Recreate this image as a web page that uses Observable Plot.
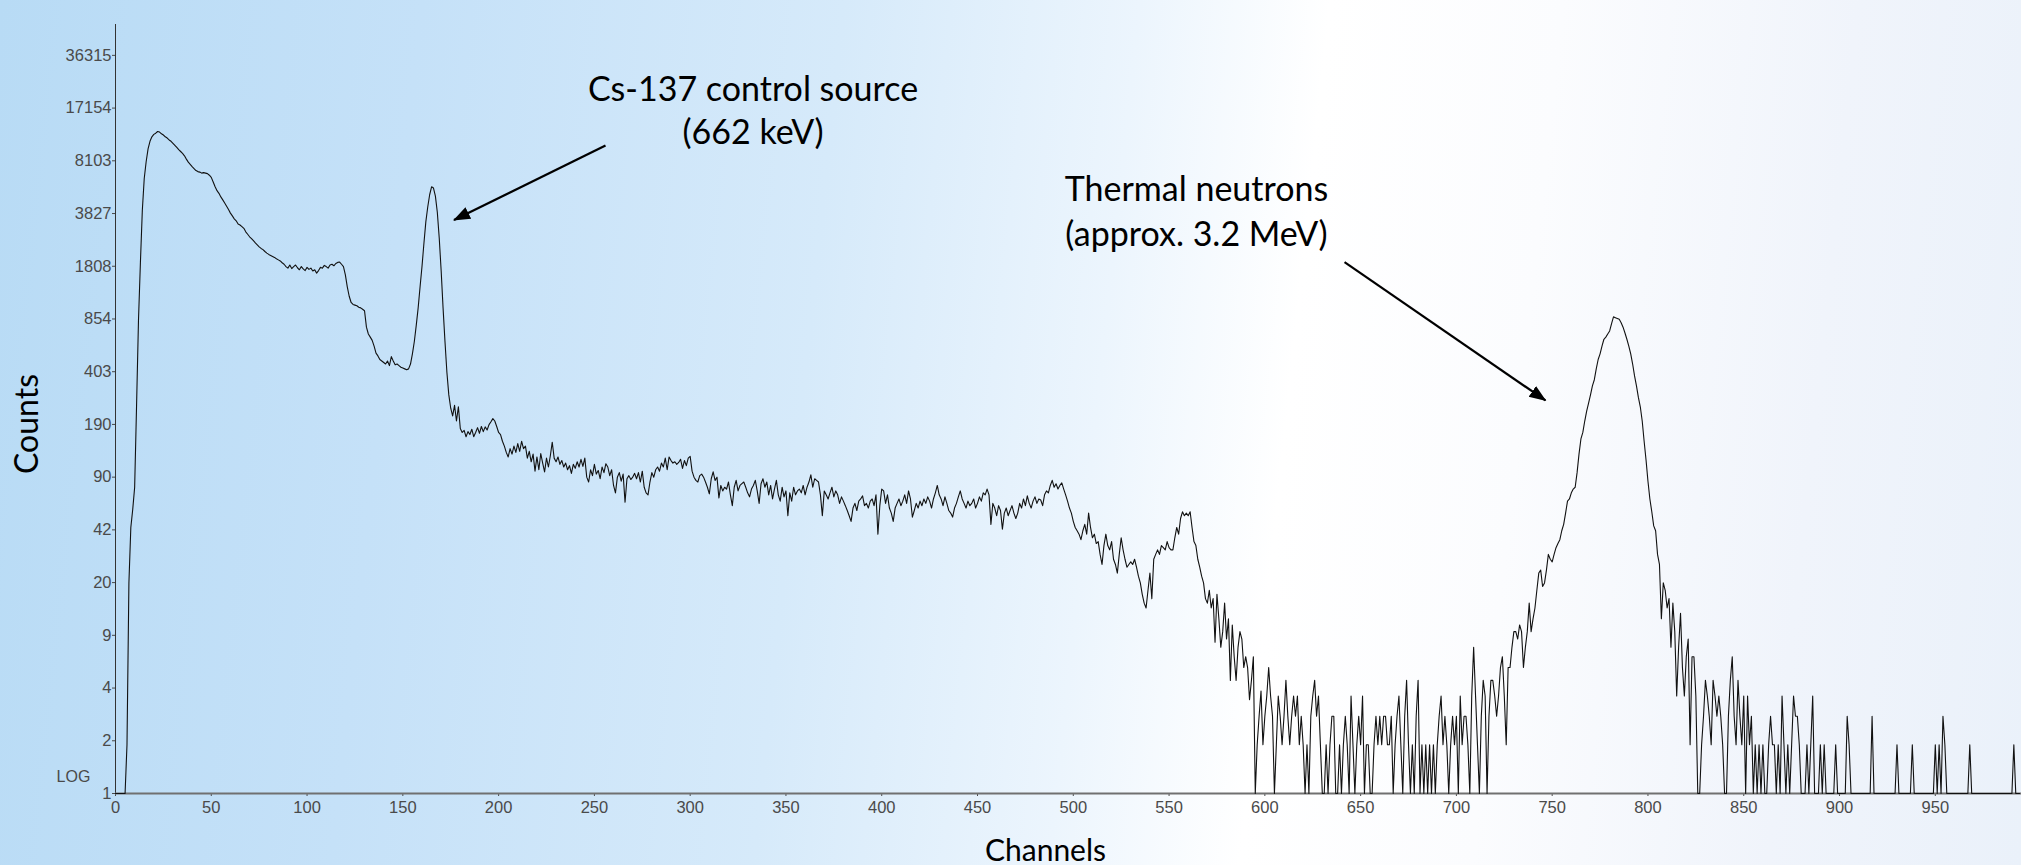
<!DOCTYPE html>
<html>
<head>
<meta charset="utf-8">
<script src="https://cdn.jsdelivr.net/npm/d3@7"></script>
<script src="https://cdn.jsdelivr.net/npm/@observablehq/plot@0.6"></script>
<style>
html, body { margin: 0; padding: 0; width: 2021px; height: 865px; overflow: hidden; }
body {
  background: linear-gradient(96deg, #b8dbf5 0%, #c5e1f8 20%, #d6eafa 40%, #ecf5fd 54%, #ffffff 63%, #fbfcfe 74%, #f0f4fb 88%, #eaf1fa 100%);
}
#chart svg { display: block; }
</style>
</head>
<body>
<div id="chart"></div>
<script>
// Counts per channel (channel = index) (log display; 1 = empty channel at baseline)
const counts = [
  /*   0 */ 1,1,1,1,1,1,2,20,44,57,
  /*  10 */ 78,250,840,1900,4000,6300,8000,9600,10700,11400,
  /*  20 */ 11800,12000,12300,12200,11900,11700,11400,11200,10900,10700,
  /*  30 */ 10400,10100,9800,9500,9250,9000,8700,8300,7950,7700,
  /*  40 */ 7450,7250,7050,6950,6900,6800,6850,6800,6750,6600,
  /*  50 */ 6400,6000,5600,5300,5100,4850,4650,4450,4250,4050,
  /*  60 */ 3850,3700,3550,3450,3300,3250,3180,3100,2950,2850,
  /*  70 */ 2750,2680,2600,2520,2450,2380,2330,2290,2230,2180,
  /*  80 */ 2140,2110,2080,2050,2010,1980,1950,1900,1860,1800,
  /*  90 */ 1760,1840,1750,1800,1840,1770,1720,1800,1740,1700,
  /* 100 */ 1780,1730,1760,1690,1720,1640,1700,1780,1760,1830,
  /* 110 */ 1800,1760,1840,1860,1820,1880,1910,1920,1860,1800,
  /* 120 */ 1600,1350,1180,1080,1050,1040,1030,1010,1000,980,
  /* 130 */ 960,760,690,660,630,580,525,505,480,470,
  /* 140 */ 460,450,470,440,500,470,445,450,440,430,
  /* 150 */ 425,420,415,420,450,520,620,780,1000,1350,
  /* 160 */ 1800,2500,3400,4200,5000,5600,5500,4900,3900,2700,
  /* 170 */ 1700,1000,620,400,290,240,215,250,200,245,
  /* 180 */ 180,170,175,160,172,165,178,160,170,182,
  /* 190 */ 168,185,172,184,176,190,198,207,200,185,
  /* 200 */ 170,165,150,140,128,120,135,125,140,128,
  /* 210 */ 145,130,150,135,140,118,130,112,125,98,
  /* 220 */ 120,100,126,110,97,118,104,122,148,118,
  /* 230 */ 112,120,108,114,104,110,100,106,95,108,
  /* 240 */ 102,112,104,116,105,118,90,84,100,92,
  /* 250 */ 108,94,99,88,104,96,109,104,92,100,
  /* 260 */ 80,72,90,96,85,94,63,88,92,87,
  /* 270 */ 90,95,88,96,84,98,78,72,70,84,
  /* 280 */ 96,90,100,104,98,110,104,118,100,120,
  /* 290 */ 114,110,112,108,111,116,102,114,106,118,
  /* 300 */ 121,98,90,86,84,92,94,90,84,78,
  /* 310 */ 71,88,97,86,90,67,80,74,78,76,
  /* 320 */ 84,70,60,78,86,74,80,82,84,78,
  /* 330 */ 72,68,76,80,86,74,62,82,88,78,
  /* 340 */ 84,70,80,66,76,86,70,64,78,68,
  /* 350 */ 74,52,72,64,78,70,74,76,72,80,
  /* 360 */ 70,78,84,93,78,88,86,84,70,52,
  /* 370 */ 74,70,66,72,78,68,74,70,62,68,
  /* 380 */ 64,60,56,52,48,58,62,56,64,66,
  /* 390 */ 69,60,62,58,64,66,60,70,40,60,
  /* 400 */ 76,74,62,70,58,54,48,58,62,66,
  /* 410 */ 60,64,70,62,74,66,51,56,62,58,
  /* 420 */ 64,60,66,62,68,64,58,66,72,80,
  /* 430 */ 70,66,60,68,62,56,54,51,58,62,
  /* 440 */ 68,74,66,62,58,64,60,62,66,58,
  /* 450 */ 62,68,64,72,70,76,70,46,62,58,
  /* 460 */ 52,60,56,43,54,58,52,56,60,54,
  /* 470 */ 50,54,62,58,66,60,69,62,58,64,
  /* 480 */ 68,62,66,65,60,70,74,72,80,86,
  /* 490 */ 78,82,76,80,83,76,70,64,58,54,
  /* 500 */ 48,44,42,40,37,42,46,40,54,44,
  /* 510 */ 38,40,35,36,30,26,34,40,34,32,
  /* 520 */ 36,28,26,23,30,38,32,28,25,26,
  /* 530 */ 27,26,28,25,22,20,17,15,14,18,
  /* 540 */ 23,16,28,30,32,30,34,33,32,36,
  /* 550 */ 33,32,32,38,44,40,50,55,52,54,
  /* 560 */ 52,55,44,36,34,28,25,22,20,16,
  /* 570 */ 15,18,14,16,8.6,17,12,8,10,15,
  /* 580 */ 9,12,5,11,7,5,8,10,9,6,
  /* 590 */ 7,6,3.8,5,7,1,2,3,4.3,2,
  /* 600 */ 3,4,6,4,3,1,2,4,3,2,
  /* 610 */ 3,5,3,2,3,4,3,4,2,3,
  /* 620 */ 2,1,2,1,3,4,5,3,4,2,
  /* 630 */ 1,1,2,1,2,3,3,1,1,2,
  /* 640 */ 1,2,3,2,1,4,2,1,2,3,
  /* 650 */ 2,4,1,2,2,1,1,2,3,2,
  /* 660 */ 3,2,3,3,2,2,3,1,2,3,
  /* 670 */ 4,2,1,3,5,2,1,2,1,3,
  /* 680 */ 5,1,2,1,2,1,2,1,2,1,
  /* 690 */ 2,3,4,2,3,2,1,2,3,2,
  /* 700 */ 3,1,4,2,3,3,2,1,4,8,
  /* 710 */ 4,2,1,3,5,4,1,3,5,5,
  /* 720 */ 4,3,4,6,7,4,2,6,6,8,
  /* 730 */ 10,10,9,11,10,6,8,10,15,10,
  /* 740 */ 12,14,18,23,24,19,20,24,30,28,
  /* 750 */ 27,30,33,35,37,42,46,54,64,66,
  /* 760 */ 72,76,78,96,125,155,170,200,230,258,
  /* 770 */ 290,330,360,420,480,520,580,640,660,690,
  /* 780 */ 720,800,880,870,860,850,810,760,700,640,
  /* 790 */ 580,520,450,380,330,280,245,200,150,115,
  /* 800 */ 85,66,55,45,42,30,26,12,20,18,
  /* 810 */ 14,16,8,15,10,4,8,13,6,4,
  /* 820 */ 7,9,2,7,7,4,1,1,2,3,
  /* 830 */ 5,4,3,2,5,4,3,4,3,2,
  /* 840 */ 1,1,3,5,7,3,2,5,3,2,
  /* 850 */ 4,1,4,2,3,1,2,1,2,1,
  /* 860 */ 2,1,1,2,3,2,2,1,2,1,
  /* 870 */ 4,2,1,2,1,2,4,3,3,2,
  /* 880 */ 1,1,1,2,1,2,4,1,1,1,
  /* 890 */ 2,1,2,1,1,1,1,1,2,1,
  /* 900 */ 1,1,1,1,3,2,1,1,1,1,
  /* 910 */ 1,1,1,1,1,1,1,3,1,1,
  /* 920 */ 1,1,1,1,1,1,1,1,1,1,
  /* 930 */ 2,1,1,1,1,1,1,1,2,1,
  /* 940 */ 1,1,1,1,1,1,1,1,1,1,
  /* 950 */ 2,1,2,1,3,2,1,1,1,1,
  /* 960 */ 1,1,1,1,1,1,1,1,2,1,
  /* 970 */ 1,1,1,1,1,1,1,1,1,1,
  /* 980 */ 1,1,1,1,1,1,1,1,1,1,
  /* 990 */ 1,2,1,1,1
];

const xTicks = [0,50,100,150,200,250,300,350,400,450,500,550,600,650,700,750,800,850,900,950];
const yTickLabels = ["1","2","4","9","20","42","90","190","403","854","1808","3827","8103","17154","36315"];

const annotationText = ["Cs-137 control source", "(662 keV)", "Thermal neutrons", "(approx. 3.2 MeV)"];
const annotationChannel = [332.8, 332.8, 564.3, 564.3];
const annotationCount = [19090, 10360, 4545, 2395];

const arrowFromChannel = [255.8, 641.6];
const arrowFromCount = [10070, 1920];
const arrowToChannel = [176.7, 746.5];
const arrowToCount = [3490, 268];

// ---- build tables ----
const spectrum = counts.map((c, i) => ({channel: i, count: c}));
const annotations = annotationText.map((t, i) => ({text: t, channel: annotationChannel[i], count: annotationCount[i]}));
const arrows = arrowFromChannel.map((_, i) => ({x1: arrowFromChannel[i], y1: arrowFromCount[i], x2: arrowToChannel[i], y2: arrowToCount[i]}));
// the display places its count ticks every 0.75 in natural-log units; labels are the truncated values
const yTickValues = yTickLabels.map((_, i) => Math.exp(0.75 * i));
const yTicks = yTickValues.map((v, i) => ({value: v, label: yTickLabels[i]}));

const tickFont = "'Liberation Sans', Arial, sans-serif";

const chart = Plot.plot({
  width: 2021,
  height: 865,
  marginLeft: 115,
  marginRight: 0,
  marginTop: 24,
  marginBottom: 72,
  style: {background: "transparent", fontFamily: tickFont, fontSize: "16.5px", color: "#4a4a4a", overflow: "visible"},
  x: {domain: [0, 995]},
  y: {type: "log", domain: [1, 56330]},
  marks: [
    Plot.axisX({ticks: xTicks, tickSize: 3, tickPadding: 5, label: null, tickFormat: d => String(d)}),
    Plot.axisY({ticks: yTickValues, tickSize: 3, label: null, tickFormat: () => ""}),
    Plot.text(yTicks, {y: "value", text: "label", frameAnchor: "left", dx: -4, textAnchor: "end", lineAnchor: "middle", fill: "#4a4a4a", fontFamily: tickFont, fontSize: 16.5}),
    Plot.ruleX([0], {stroke: "#333", strokeWidth: 1}),
    Plot.ruleY([1], {stroke: "#707070", strokeWidth: 2}),
    Plot.line(spectrum, {x: "channel", y: "count", stroke: "#111", strokeWidth: 1.1}),
    Plot.link(arrows, {x1: "x1", y1: "y1", x2: "x2", y2: "y2", stroke: "black", strokeWidth: 2.2}),
    Plot.text(annotations, {x: "channel", y: "count", text: "text", fontFamily: "Lato", fontSize: 34, fill: "black", textAnchor: "middle", lineAnchor: "bottom"}),
    Plot.text(["Counts"], {text: d => d, frameAnchor: "left", rotate: -90, dx: -88, dy: 15, textAnchor: "middle", lineAnchor: "middle", fontFamily: "Lato", fontSize: 32, fill: "black"}),
    Plot.text(["Channels"], {text: d => d, frameAnchor: "bottom", dx: -23, dy: 58, textAnchor: "middle", lineAnchor: "middle", fontFamily: "Lato", fontSize: 30, fill: "black"}),
    Plot.text(["LOG"], {text: d => d, frameAnchor: "bottom-left", dx: -42, dy: -16.6, textAnchor: "middle", lineAnchor: "middle", fontFamily: tickFont, fontSize: 16, fill: "#4a4a4a"})
  ]
});

// filled arrowheads for the annotation arrows
const svgNS = "http://www.w3.org/2000/svg";
const defs = document.createElementNS(svgNS, "defs");
defs.innerHTML = '<marker id="ahead" markerUnits="userSpaceOnUse" markerWidth="20" markerHeight="16" refX="16" refY="0" viewBox="0 -8 20 16" orient="auto"><path d="M0,-6.5L17,0L0,6.5Z" fill="black"/></marker>';
chart.insertBefore(defs, chart.firstChild);
chart.querySelectorAll('g[aria-label="link"] path, g[aria-label="link"] line').forEach(p => p.setAttribute("marker-end", "url(#ahead)"));

document.getElementById("chart").appendChild(chart);
</script>
</body>
</html>
